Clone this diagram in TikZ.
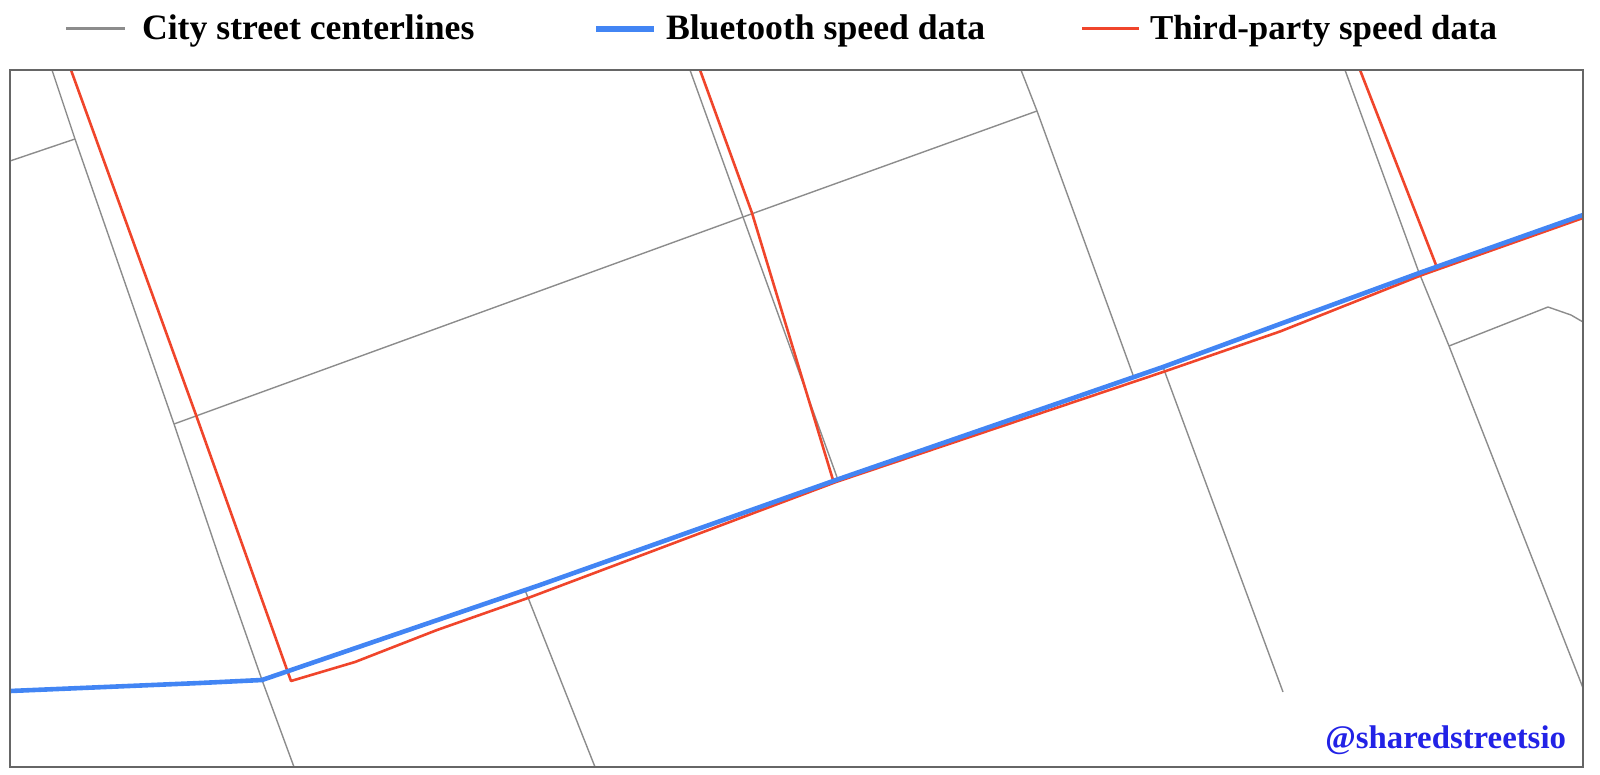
\documentclass[tikz,border=0pt]{standalone}
\usepackage{fontspec}
\setmainfont{Liberation Serif}
\newcommand*{\legendfont}{\fontsize{17.85}{20}\bfseries\selectfont}
\newcommand*{\thirdfont}{\fontsize{17.45}{20}\bfseries\selectfont}
\newcommand*{\handlefont}{\fontsize{16.4}{20}\bfseries\selectfont}
\definecolor{street}{HTML}{8C8C8C}
\definecolor{bluetooth}{HTML}{4285F4}
\definecolor{thirdparty}{HTML}{F0452B}
\definecolor{handle}{HTML}{2222E6}
\definecolor{framegrey}{HTML}{666666}
\tikzstyle{base}=[x=0.5pt, y=-0.5pt, inner sep=0pt, outer sep=0pt]
\tikzstyle{citystreet}=[street, line width=0.7pt, line join=round]
\tikzstyle{btspeed}=[bluetooth, line width=2.3pt, line join=round]
\tikzstyle{tpspeed}=[thirdparty, line width=1.3pt, line join=round]
\tikzstyle{legendtext}=[anchor=base west, black, font=\legendfont]

\begin{document}
\begin{tikzpicture}[base]
    \path [use as bounding box] (0,0) rectangle (1600,775);
    \coordinate (citykeya) at (66,29);
    \coordinate (citykeyb) at (125,29);
    \coordinate (btkeya) at (596,29);
    \coordinate (btkeyb) at (654,29);
    \coordinate (tpkeya) at (1082,29);
    \coordinate (tpkeyb) at (1139,29);
    \draw [street, line width=1.5pt] (citykeya) -- (citykeyb);
    \draw [btspeed, line width=2.6pt] (btkeya) -- (btkeyb);
    \draw [tpspeed, line width=1.5pt] (tpkeya) -- (tpkeyb);
    \node [legendtext] (citylabel) at (142,40) {City street centerlines};
    \node [legendtext] (btlabel) at (666,40) {Bluetooth speed data};
    \node [legendtext, font=\thirdfont] (tplabel) at (1150,40) {Third-party speed data};
    \draw [citystreet] (52,70) -- (75,139) -- (174,424) -- (220,560) -- (262,680) -- (294,767);
    \draw [citystreet] (10,161) -- (75,139);
    \draw [citystreet] (174,424) -- (743,217) -- (1037,111);
    \draw [citystreet] (1021,70) -- (1037,111) -- (1133,375);
    \draw [citystreet] (690,70) -- (743,217) -- (838,480);
    \draw [citystreet] (1345,70) -- (1418,270) -- (1449,346) -- (1583,688);
    \draw [citystreet] (1449,346) -- (1548,307) -- (1571,315) -- (1583,322);
    \draw [citystreet] (1163,367) -- (1283,692);
    \draw [citystreet] (525,590) -- (595,767);
    \draw [tpspeed] (71,70) -- (196,415) -- (291,681) -- (355,662) -- (437,630) -- (528,598) -- (836,482) -- (1163,372) -- (1280,331.5) -- (1422,275) -- (1583,218);
    \draw [tpspeed] (700,70) -- (752,213) -- (833,480);
    \draw [tpspeed] (1360,70) -- (1436,265);
    \draw [btspeed] (10,691) -- (200,683) -- (262,680) -- (540,585) -- (836,480) -- (1163,367) -- (1280,324) -- (1422,272) -- (1583,215);
    \draw [framegrey, line width=0.6pt] (10,70) rectangle (1583,767);
    \node [anchor=base east, handle, font=\handlefont] (handlelabel) at (1566,748) {@sharedstreetsio};
\end{tikzpicture}
\end{document}
